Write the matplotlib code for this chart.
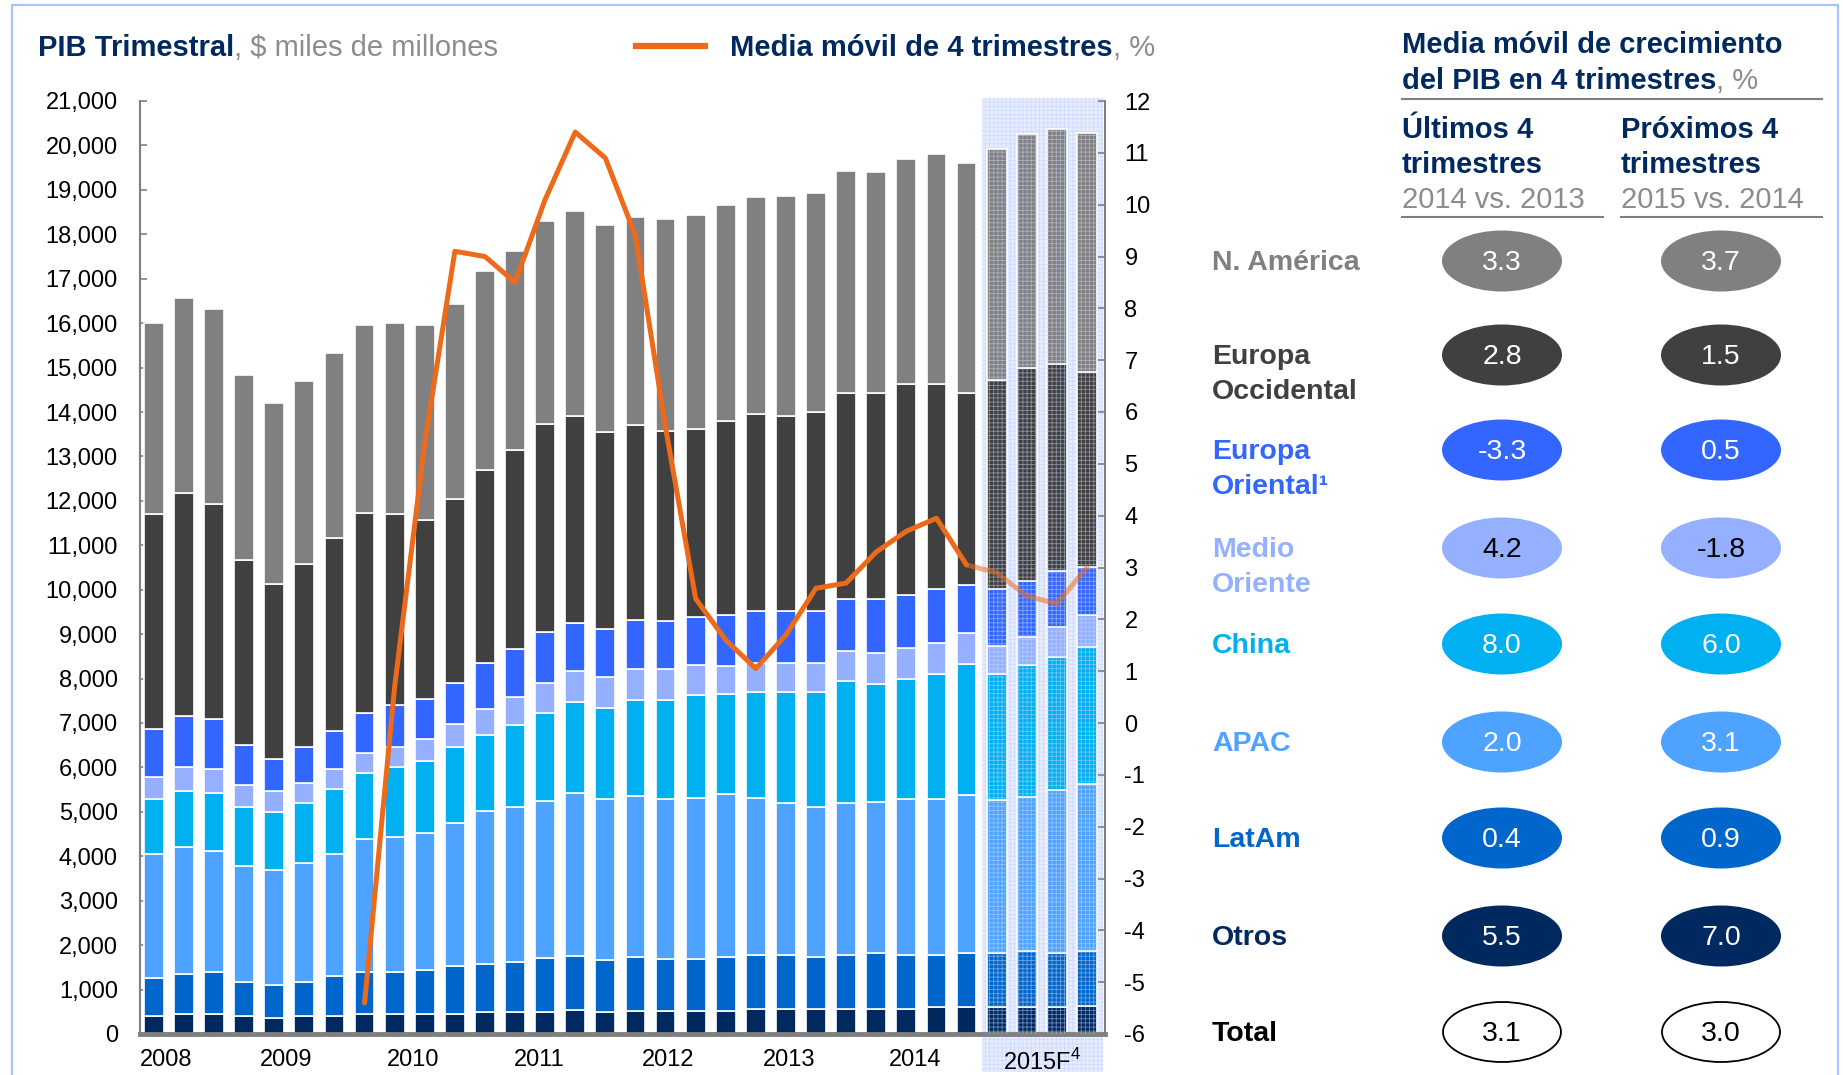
import matplotlib
matplotlib.use('Agg')
import matplotlib.pyplot as plt
import numpy as np
from matplotlib.patches import Ellipse, Rectangle
from matplotlib.transforms import blended_transform_factory

plt.rcParams['font.family'] = 'Liberation Sans'
plt.rcParams['mathtext.fontset'] = 'custom'
plt.rcParams['mathtext.rm'] = 'Liberation Sans'
plt.rcParams['hatch.linewidth'] = 0.6

# --- DATA: quarterly GDP by region, $ bn (2008Q1 .. 2015Q4, last 4 = forecast) ---
otros = [400, 440, 440, 400, 350, 400, 400, 440, 440, 440, 440, 490, 490, 490, 530, 490,
         510, 510, 510, 510, 560, 560, 560, 560, 560, 560, 600, 600, 600, 600, 600, 640]
latam = [860, 910, 960, 760, 760, 760, 910, 960, 960, 1000, 1090, 1090, 1140, 1230, 1220, 1170,
         1220, 1180, 1180, 1220, 1220, 1220, 1180, 1220, 1270, 1220, 1170, 1220, 1220, 1270, 1220, 1230]
apac = [2800, 2860, 2710, 2630, 2590, 2690, 2750, 2990, 3040, 3080, 3210, 3440, 3480, 3530, 3670, 3640,
        3620, 3590, 3630, 3670, 3540, 3410, 3360, 3410, 3400, 3510, 3510, 3570, 3440, 3470, 3670, 3760]
china = [1230, 1270, 1320, 1310, 1300, 1340, 1460, 1490, 1580, 1630, 1720, 1700, 1840, 1980, 2060, 2040,
         2160, 2240, 2300, 2250, 2380, 2510, 2600, 2750, 2650, 2710, 2830, 2940, 2840, 2960, 2990, 3070]
medio_oriente = [490, 540, 540, 500, 470, 470, 450, 450, 450, 480, 520, 600, 630, 680, 690, 690,
                 700, 690, 680, 640, 640, 660, 660, 680, 700, 680, 680, 700, 640, 640, 680, 730]
europa_oriental = [1080, 1130, 1130, 910, 730, 810, 850, 890, 940, 900, 910, 1040, 1080, 1130, 1080, 1080,
                   1100, 1080, 1090, 1130, 1180, 1170, 1170, 1170, 1200, 1200, 1230, 1070, 1270, 1260, 1260, 1080]
europa_occidental = [4840, 5020, 4830, 4150, 3920, 4100, 4340, 4510, 4300, 4030, 4160, 4340, 4490, 4690, 4660, 4430,
                     4400, 4290, 4230, 4380, 4430, 4390, 4480, 4640, 4640, 4740, 4610, 4330, 4700, 4790, 4670, 4400]
n_america = [4300, 4390, 4390, 4180, 4080, 4130, 4170, 4220, 4300, 4390, 4390, 4470, 4480, 4580, 4620, 4670,
             4670, 4770, 4810, 4860, 4900, 4940, 4930, 4990, 4990, 5070, 5170, 5180, 5220, 5260, 5280, 5370]

# 4-quarter moving average growth, %
media_movil = [np.nan] * 7 + [-5.4, 0.7, 5.4, 9.1, 9.0, 8.5, 10.1, 11.4, 10.9, 9.4, 5.7, 2.4, 1.6,
                              1.05, 1.7, 2.6, 2.7, 3.3, 3.7, 3.95, 3.05, 2.9, 2.45, 2.3, 3.0]

year_labels = ['2008', '2009', '2010', '2011', '2012', '2013', '2014', r'2015F$^{4}$']
n_hist = 28  # quarters with actuals; the rest is forecast

regions = [('N. América',), ('Europa', 'Occidental'), ('Europa', 'Oriental¹'), ('Medio', 'Oriente'),
           ('China',), ('APAC',), ('LatAm',), ('Otros',), ('Total',)]
ultimos = [3.3, 2.8, -3.3, 4.2, 8.0, 2.0, 0.4, 5.5, 3.1]
proximos = [3.7, 1.5, 0.5, -1.8, 6.0, 3.1, 0.9, 7.0, 3.0]
# ------------------

NAVY = '#002960'
GREY_TXT = '#8C8C8C'
AXIS = '#7F7F7F'
ORANGE = '#EE6A1B'
region_colors = ['#808080', '#404040', '#3366FF', '#94B0FF', '#00B0F0', '#4DA3FF', '#0066CC', '#002960', 'black']
HEAD = 21

W, H = 1843, 1075
fig = plt.figure(figsize=(W / 100, H / 100), dpi=100)

# full-figure overlay in pixel units for the text panel
pan = fig.add_axes([0, 0, 1, 1])
pan.set_xlim(0, W)
pan.set_ylim(H, 0)
pan.axis('off')

ax = fig.add_axes([140 / W, 1 - 1034 / H, 965 / W, 933 / H])
ax2 = ax.twinx()
x = np.arange(len(n_america))

# forecast band
trans = blended_transform_factory(ax.transData, ax.transAxes)
ax.add_patch(Rectangle((27.5, -0.041), 4.05, 1.044, transform=trans, facecolor='#E6EDFF',
                       edgecolor='#CFDBFF', linewidth=0, hatch='++++', zorder=0, clip_on=False))

stack = [otros, latam, apac, china, medio_oriente, europa_oriental, europa_occidental, n_america]
stack_colors = ['#002960', '#0066CC', '#4DA3FF', '#00B0F0', '#94B0FF', '#3366FF', '#404040', '#808080']
bottom = np.zeros(len(x))
for vals, c in zip(stack, stack_colors):
    vals = np.array(vals, dtype=float)
    ax.bar(x, vals, 0.66, bottom=bottom, color=c, edgecolor='white', linewidth=1.2, zorder=2)
    ax.bar(x[n_hist:], vals[n_hist:], 0.66, bottom=bottom[n_hist:], color='none',
           edgecolor=(0.82, 0.87, 1.0, 0.5), linewidth=0, hatch='++++', zorder=3)
    bottom += vals

ax.set_xlim(-0.46, 31.6)
ax.set_ylim(0, 21000)
ax.set_yticks(range(0, 21001, 1000), [f'{v:,}' for v in range(0, 21001, 1000)])
ax.set_xticks([0.4, 4.4, 8.6, 12.8, 17.1, 21.1, 25.3, 29.5], year_labels)
ax.tick_params(axis='y', direction='in', length=5, width=1.2, color=AXIS, labelsize=17, pad=16)
ax.tick_params(axis='x', length=0, labelsize=17, pad=11)
ax.spines['top'].set_visible(False)
ax.spines['right'].set_visible(False)
ax.spines['left'].set_color(AXIS)
ax.spines['left'].set_linewidth(1.5)
ax.spines['bottom'].set_color(AXIS)
ax.spines['bottom'].set_linewidth(3.5)

mm = np.array(media_movil)
ax2.plot(x[:n_hist], mm[:n_hist], color=ORANGE, lw=3.6, solid_capstyle='round', zorder=4)
ax2.plot(x[n_hist - 1:], mm[n_hist - 1:], color=ORANGE, lw=3.6, alpha=0.55, solid_capstyle='round', zorder=4)
ax2.set_ylim(-6, 12)
ax2.set_yticks(range(-6, 13), [str(v) for v in range(-6, 13)])
ax2.tick_params(axis='y', direction='in', length=5, width=1.2, color=AXIS, labelsize=17, pad=14)
for s in ['top', 'left', 'bottom']:
    ax2.spines[s].set_visible(False)
ax2.spines['right'].set_color(AXIS)
ax2.spines['right'].set_linewidth(1.5)


def two_tone(px, py, strong, light, size=HEAD):
    t = pan.text(px, py, strong, color=NAVY, fontweight='bold', fontsize=size, va='center')
    pan.annotate(light, xy=(1, 0), xycoords=t, va='bottom', color=GREY_TXT, fontsize=size)


# frame
pan.plot([12, 12, 1838, 1838], [H, 5, 5, H], color='#A9C1FF', lw=1.6)

# chart headings
two_tone(38, 48, 'PIB Trimestral', ', $ miles de millones')
pan.plot([636, 705], [46, 46], color=ORANGE, lw=4.5)
two_tone(730, 48, 'Media móvil de 4 trimestres', ', %')

# growth table
pan.text(1402, 45, 'Media móvil de crecimiento', color=NAVY, fontweight='bold', fontsize=HEAD, va='center')
two_tone(1402, 81, 'del PIB en 4 trimestres', ', %')
pan.plot([1402, 1822], [99, 99], color=AXIS, lw=1.5)
for cx, head, sub in [(1402, 'Últimos 4', '2014 vs. 2013'), (1621, 'Próximos 4', '2015 vs. 2014')]:
    pan.text(cx, 130, head, color=NAVY, fontweight='bold', fontsize=HEAD, va='center')
    pan.text(cx, 165, 'trimestres', color=NAVY, fontweight='bold', fontsize=HEAD, va='center')
    pan.text(cx, 200, sub, color=GREY_TXT, fontsize=HEAD, va='center')
    pan.plot([cx, cx + 201], [217, 217], color=AXIS, lw=1.5)

row_y = [261, 355, 450, 548, 644, 742, 838, 936, 1032]
for lines, col, v1, v2, ry in zip(regions, region_colors, ultimos, proximos, row_y):
    for i, line in enumerate(lines):
        pan.text(1212, ry + 2 + i * 35, line, color=col, fontweight='bold', fontsize=20.5, va='center')
    for cx, v in [(1502, v1), (1721, v2)]:
        if col == 'black':
            pan.add_patch(Ellipse((cx, ry), 118, 60, facecolor='white', edgecolor='black', lw=1.3))
            tc = 'black'
        else:
            pan.add_patch(Ellipse((cx, ry), 120, 61, facecolor=col, edgecolor='none'))
            tc = 'black' if col == '#94B0FF' else 'white'
        pan.text(cx, ry + 2, f'{v:.1f}', color=tc, fontsize=20.5, ha='center', va='center')

fig.savefig('out.png', dpi=100)
